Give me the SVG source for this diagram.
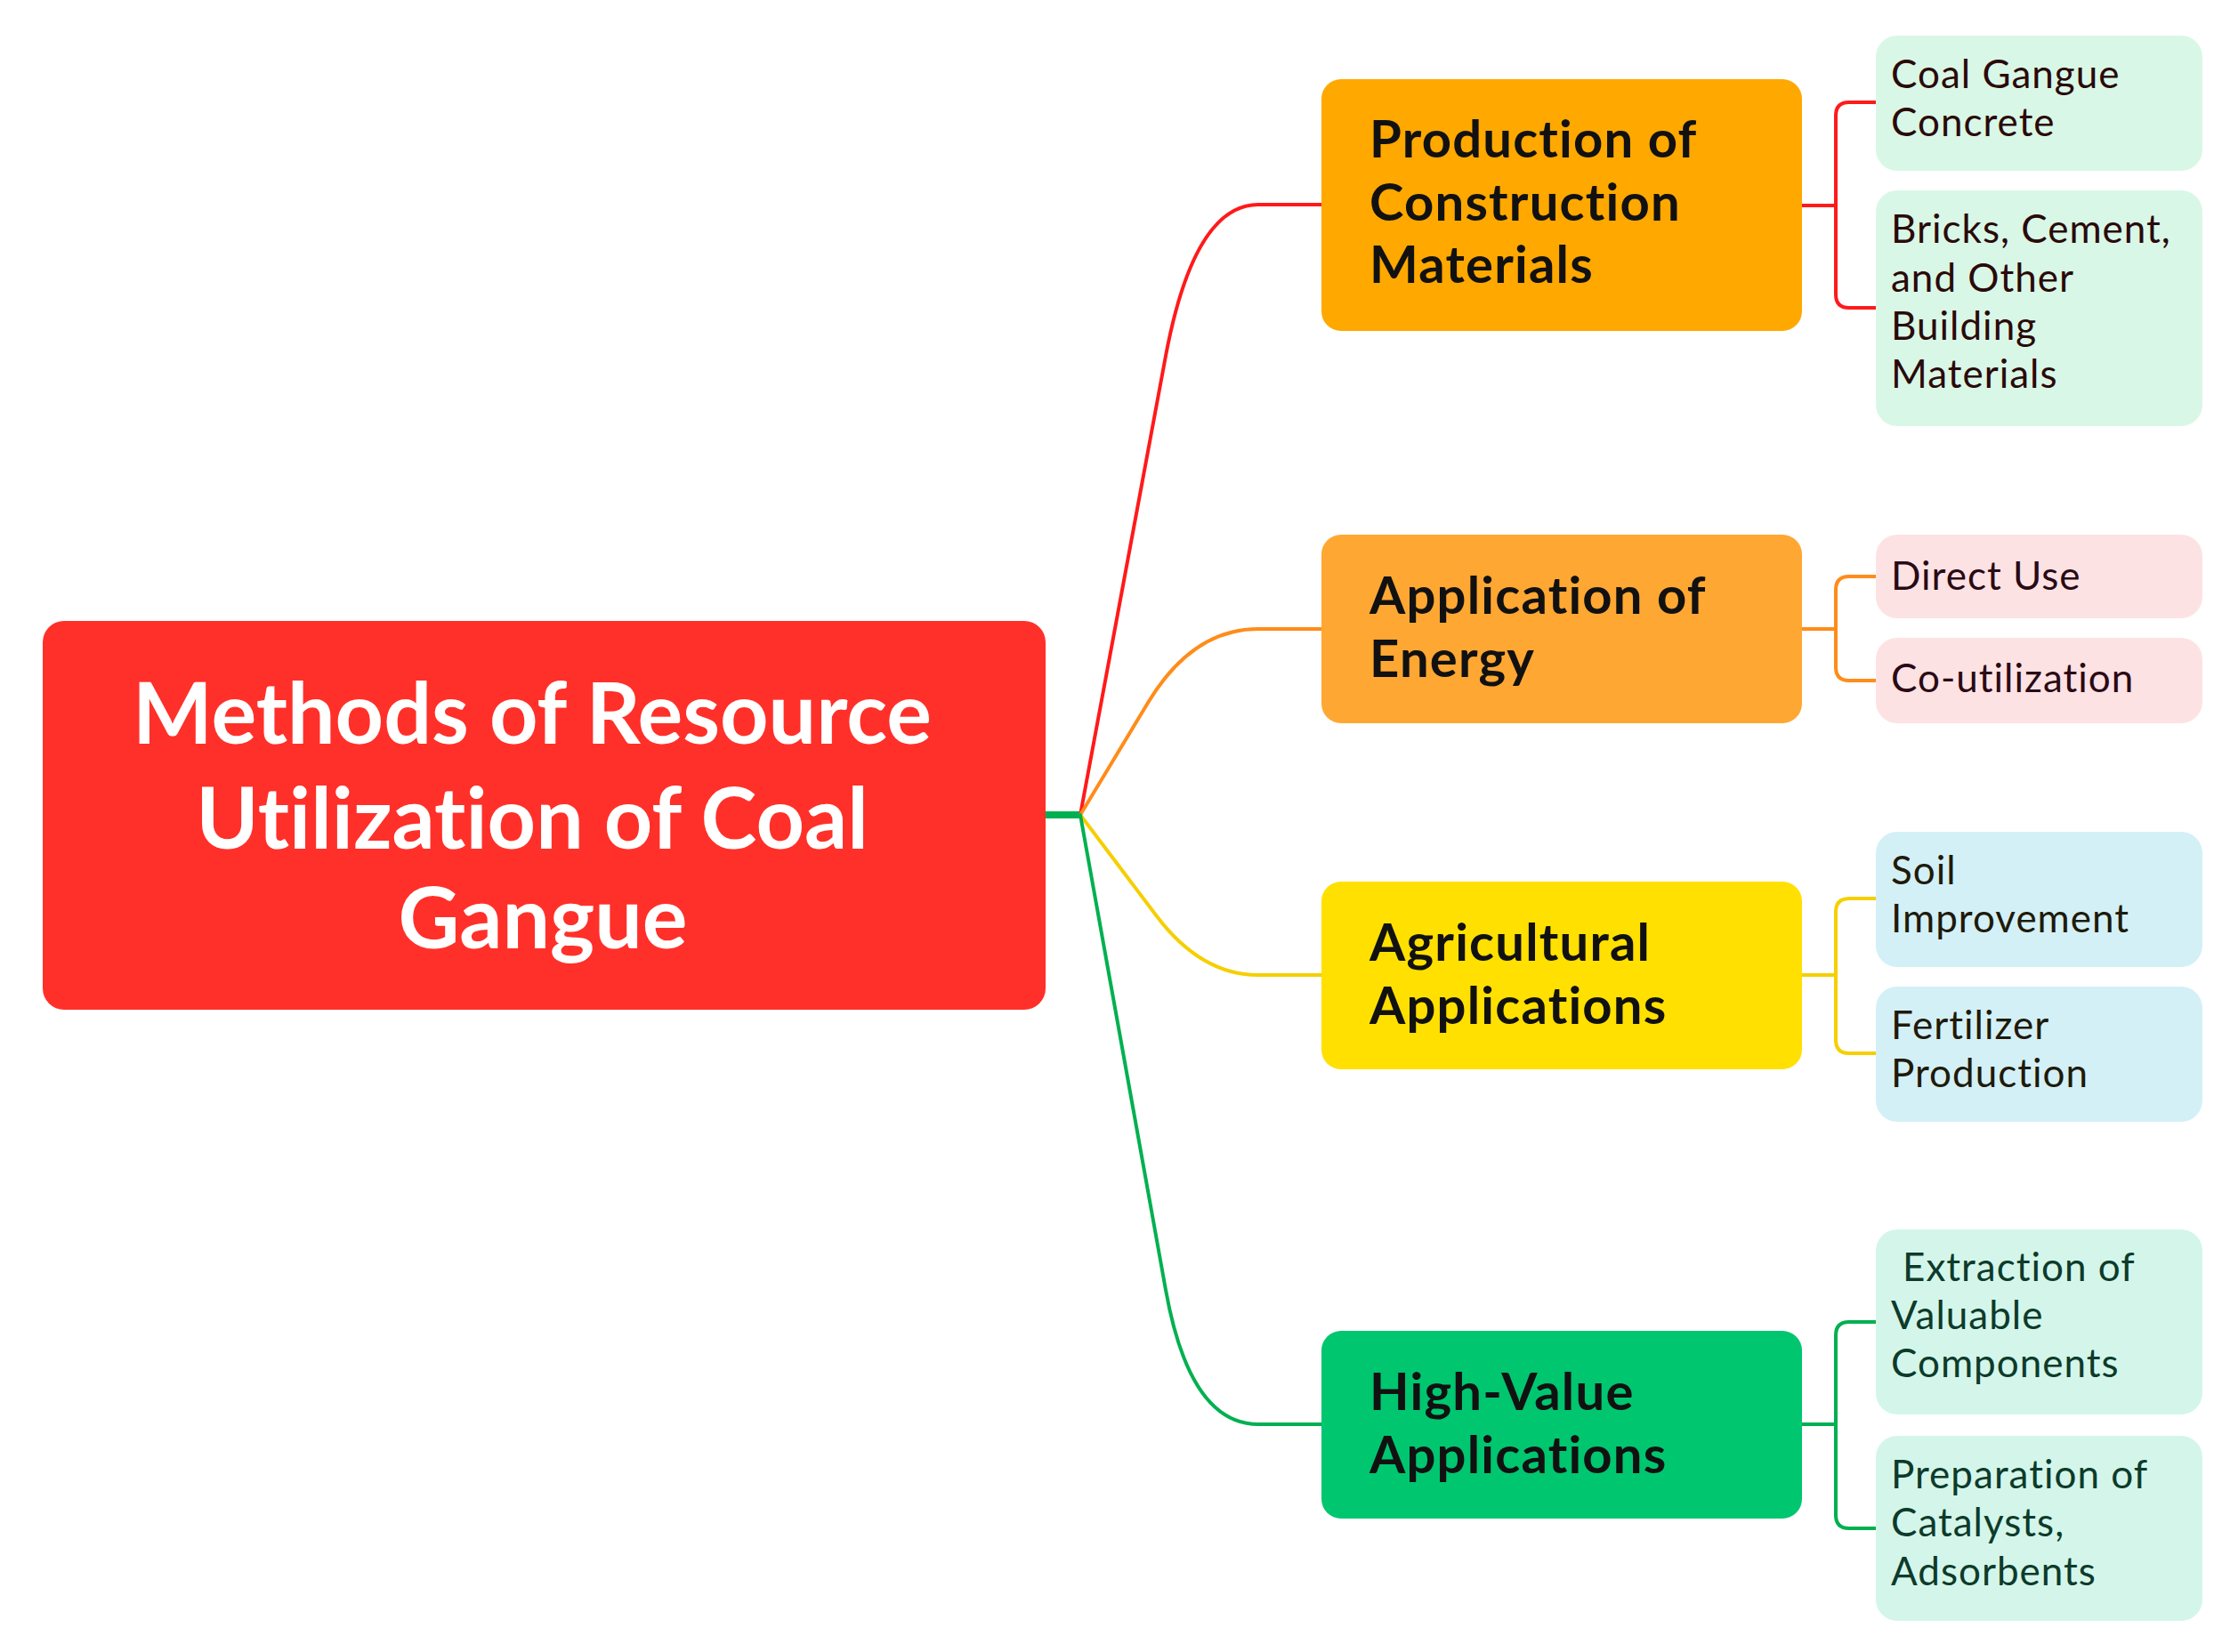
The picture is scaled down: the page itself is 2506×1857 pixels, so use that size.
<svg xmlns="http://www.w3.org/2000/svg" width="2506" height="1857" viewBox="0 0 2506 1857">
<style>
text{font-variant-ligatures:none;font-feature-settings:"liga" 0,"clig" 0}
.root{fill:#FF3029}
.rt{font-family:Lato,"Liberation Sans",sans-serif;font-weight:700;font-size:95px;fill:#fff;text-anchor:middle}
.l1t{font-family:Lato,"Liberation Sans",sans-serif;font-weight:700;font-size:58px;letter-spacing:1.2px;fill:#111}
.l2t{font-family:Lato,"Liberation Sans",sans-serif;font-weight:400;font-size:44px;letter-spacing:1px}
.br{fill:none;stroke-width:4;stroke-linecap:round;stroke-linejoin:round}
</style>
<rect width="2506" height="1857" fill="#fff"/>
<g id="connectors">
<path d="M1175,916 H1214" stroke="#00B050" stroke-width="8" fill="none"/>
<path class="br" stroke="#FF1A1A" d="M1214,916 L1310,400 Q1342,230 1414,230 H1487"/>
<path class="br" stroke="#FF8C1A" d="M1214,916 L1290,790 Q1340,707 1414,707 H1487"/>
<path class="br" stroke="#F5CF00" d="M1214,916 L1300,1030 Q1350,1096 1414,1096 H1487"/>
<path class="br" stroke="#00B050" d="M1214,916 L1310,1450 Q1337,1601 1414,1601 H1487"/>
<path class="br" stroke="#FF1A1A" d="M2025,231 H2063 M2108,115 H2078 Q2063,115 2063,130 V331 Q2063,346 2078,346 H2108"/>
<path class="br" stroke="#FF8C1A" d="M2025,707 H2063 M2108,648 H2078 Q2063,648 2063,663 V750 Q2063,765 2078,765 H2108"/>
<path class="br" stroke="#F5CF00" d="M2025,1096 H2063 M2108,1010 H2078 Q2063,1010 2063,1025 V1169 Q2063,1184 2078,1184 H2108"/>
<path class="br" stroke="#00B050" d="M2025,1601 H2063 M2108,1486 H2078 Q2063,1486 2063,1501 V1703 Q2063,1718 2078,1718 H2108"/>
</g>
<g id="root">
<rect class="root" x="48" y="698" width="1127" height="437" rx="24"/>
<text class="rt" x="598" y="836">Methods of Resource</text>
<text class="rt" x="598" y="954">Utilization of Coal</text>
<text class="rt" x="610" y="1066">Gangue</text>
</g>
<g id="construction">
<rect x="1485" y="89" width="540" height="283" rx="22" fill="#FFA800"/>
<text class="l1t" x="1539" y="177">Production of</text>
<text class="l1t" x="1539" y="248">Construction</text>
<text class="l1t" x="1539" y="318">Materials</text>
</g>
<g id="energy">
<rect x="1485" y="601" width="540" height="212" rx="22" fill="#FFA733"/>
<text class="l1t" x="1539" y="690">Application of</text>
<text class="l1t" x="1539" y="761">Energy</text>
</g>
<g id="agri">
<rect x="1485" y="991" width="540" height="211" rx="22" fill="#FFE000"/>
<text class="l1t" x="1539" y="1080">Agricultural</text>
<text class="l1t" x="1539" y="1151">Applications</text>
</g>
<g id="highvalue">
<rect x="1485" y="1496" width="540" height="211" rx="22" fill="#00C670"/>
<text class="l1t" x="1539" y="1585">High-Value</text>
<text class="l1t" x="1539" y="1656">Applications</text>
</g>
<g id="concrete">
<rect x="2108" y="40" width="367" height="152" rx="24" fill="#D9F7E6"/>
<text class="l2t" fill="#2A0A0A" x="2125" y="99">Coal Gangue</text>
<text class="l2t" fill="#2A0A0A" x="2125" y="153">Concrete</text>
</g>
<g id="bricks">
<rect x="2108" y="214" width="367" height="265" rx="24" fill="#D9F7E6"/>
<text class="l2t" fill="#2A0A0A" x="2125" y="273">Bricks, Cement,</text>
<text class="l2t" fill="#2A0A0A" x="2125" y="328">and Other</text>
<text class="l2t" fill="#2A0A0A" x="2125" y="382">Building</text>
<text class="l2t" fill="#2A0A0A" x="2125" y="436">Materials</text>
</g>
<g id="direct">
<rect x="2108" y="601" width="367" height="94" rx="24" fill="#FDE2E4"/>
<text class="l2t" fill="#2A0A14" x="2125" y="663">Direct Use</text>
</g>
<g id="coutil">
<rect x="2108" y="717" width="367" height="96" rx="24" fill="#FDE2E4"/>
<text class="l2t" fill="#2A0A14" x="2125" y="778">Co-utilization</text>
</g>
<g id="soil">
<rect x="2108" y="935" width="367" height="152" rx="24" fill="#D3F0F7"/>
<text class="l2t" fill="#1F1A0A" x="2125" y="994">Soil</text>
<text class="l2t" fill="#1F1A0A" x="2125" y="1048">Improvement</text>
</g>
<g id="fertilizer">
<rect x="2108" y="1109" width="367" height="152" rx="24" fill="#D3F0F7"/>
<text class="l2t" fill="#1F1A0A" x="2125" y="1168">Fertilizer</text>
<text class="l2t" fill="#1F1A0A" x="2125" y="1222">Production</text>
</g>
<g id="extraction">
<rect x="2108" y="1382" width="367" height="208" rx="24" fill="#D4F6EA"/>
<text class="l2t" fill="#0D3B2B" x="2138" y="1440">Extraction of</text>
<text class="l2t" fill="#0D3B2B" x="2125" y="1494">Valuable</text>
<text class="l2t" fill="#0D3B2B" x="2125" y="1548">Components</text>
</g>
<g id="catalysts">
<rect x="2108" y="1614" width="367" height="208" rx="24" fill="#D4F6EA"/>
<text class="l2t" fill="#0D3B2B" x="2125" y="1673">Preparation of</text>
<text class="l2t" fill="#0D3B2B" x="2125" y="1727">Catalysts,</text>
<text class="l2t" fill="#0D3B2B" x="2125" y="1782">Adsorbents</text>
</g>
</svg>
